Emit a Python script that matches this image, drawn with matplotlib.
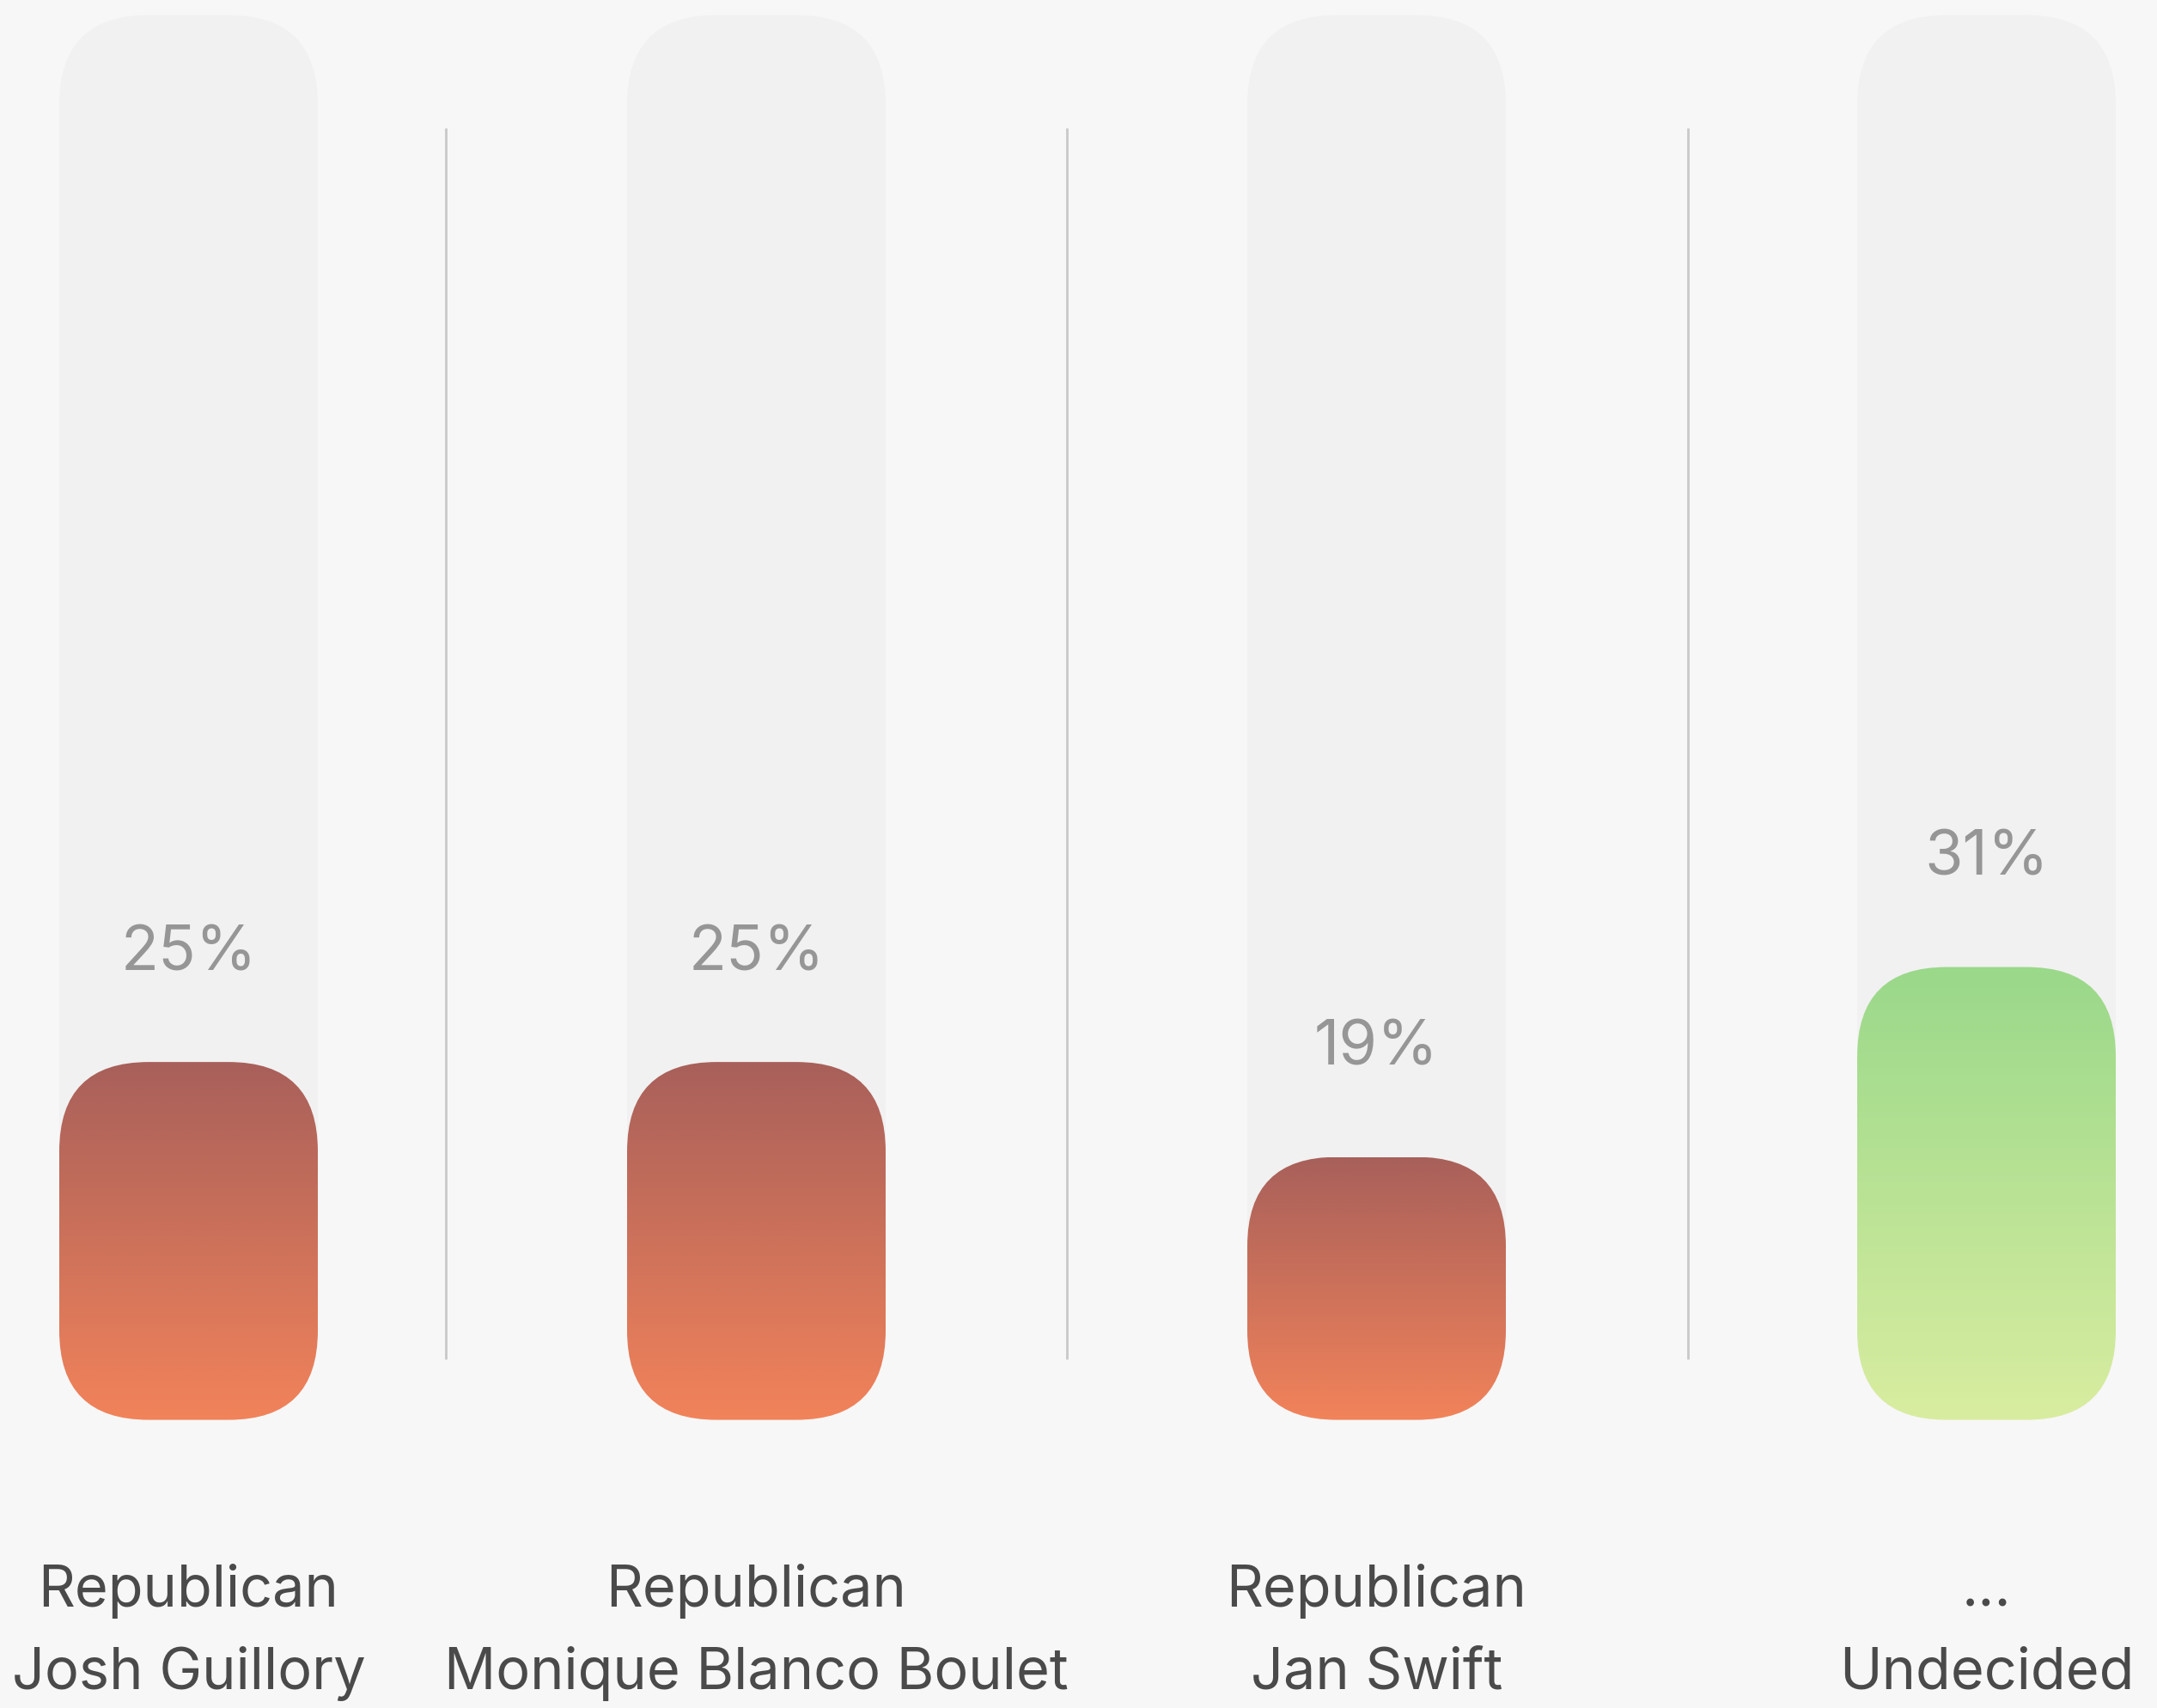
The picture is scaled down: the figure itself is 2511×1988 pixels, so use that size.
import numpy as np
import matplotlib
matplotlib.use("Agg")
import matplotlib.pyplot as plt
from matplotlib.patches import FancyBboxPatch
from matplotlib.colors import LinearSegmentedColormap

# data
parties = ["Republican", "Republican", "Republican", "..."]
names = ["Josh Guillory", "Monique Blanco Boulet", "Jan Swift", "Undecided"]
values = [25, 25, 19, 31]
kinds = ["rep", "rep", "rep", "und"]

# layout (pixels)
W, H = 2511, 1988
centers = [219.5, 880.5, 1602.5, 2312.5]
separators = [519, 1242, 1965]
bar_w = 301
radius = 104
zero_px = 1696.6     # pixel row of value 0
px_per_unit = 18.42
bar_base = 44 / px_per_unit                  # bottom edge of the bars
bar_top = (zero_px - 17.6) / px_per_unit     # top edge of the track

grads = {
    "rep": ["#a8605a", "#f2835a"],
    "und": ["#9ad88a", "#d9eda0"],
}

plt.rcParams['font.family'] = ['Inter', 'DejaVu Sans']

fig = plt.figure(figsize=(W / 100, H / 100), dpi=100, facecolor="#f7f7f7")
ax = fig.add_axes([0, 0, 1, 1])
ax.set_facecolor("#f7f7f7")
ax.set_xlim(0, W)
ax.set_ylim(-(H - zero_px) / px_per_unit, zero_px / px_per_unit)
ax.axis("off")
asp = 1 / px_per_unit


def rounded(x, y, w, h, **kw):
    return FancyBboxPatch((x, y), w, h,
                          boxstyle="round,pad=0,rounding_size=%g" % radius,
                          mutation_aspect=asp, **kw)


def py(px):
    # pixel row -> data value
    return (zero_px - px) / px_per_unit


for i, c in enumerate(centers):
    left = c - bar_w / 2
    bg = rounded(left, bar_base, bar_w, bar_top - bar_base,
                 facecolor="#f1f1f1", edgecolor="none", zorder=1)
    ax.add_patch(bg)

    v = values[i]
    fill = rounded(left, bar_base, bar_w, v - bar_base,
                   facecolor="none", edgecolor="none", zorder=2)
    ax.add_patch(fill)
    cmap = LinearSegmentedColormap.from_list("g%d" % i, grads[kinds[i]])
    grad = np.linspace(0, 1, 256).reshape(-1, 1)
    im = ax.imshow(grad, cmap=cmap, aspect="auto", origin="upper",
                   extent=[left, left + bar_w, bar_base, v],
                   zorder=2, interpolation="bilinear")
    im.set_clip_path(fill)

    ax.text(c, v + 107 / px_per_unit, "%d%%" % v, ha="center", va="baseline",
            fontsize=52, color="#969696", zorder=3)
    ax.text(c, py(1870), parties[i], ha="center", va="baseline",
            fontsize=48, color="#4a4a4a")
    ax.text(c, py(1966), names[i], ha="center", va="baseline",
            fontsize=48, color="#4a4a4a")

ax.vlines(separators, py(1582), py(149), colors="#c8c8c8", linewidth=2)

fig.savefig("out.png", dpi=100, facecolor=fig.get_facecolor())
